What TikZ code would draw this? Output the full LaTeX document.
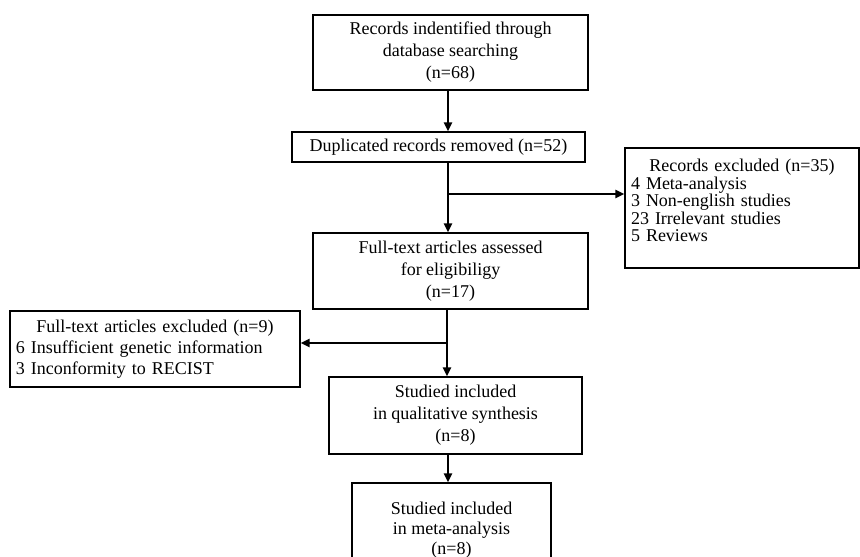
\documentclass[tikz,border=0pt]{standalone}
\usepackage{fontspec}
\setmainfont{Liberation Serif}
\usetikzlibrary{arrows.meta}
\begin{document}
\begin{tikzpicture}[x=1pt,y=-1pt,
    box/.style={draw, line width=1.2pt, inner sep=2pt, align=center,
      font=\fontsize{18}{22}\selectfont},
    arr/.style={line width=2pt, -{Triangle[length=9pt,width=8pt]}}]
   \useasboundingbox (0,0) rectangle (860,557);
   % main column
   \node[box, minimum width=275pt, minimum height=75pt] (ident) at (450.5,52.5)
      {Records indentified through\\ database searching\\ (n=68)};
   \node[box, minimum width=293pt, minimum height=30pt] (dup) at (438.5,147)
      {Duplicated records removed (n=52)};
   \node[box, minimum width=275pt, minimum height=76pt] (assess) at (450.5,271)
      {Full-text articles assessed\\ for eligibiligy\\ (n=17)};
   \node[box, minimum width=253pt, minimum height=77pt] (qual) at (455.5,415.5)
      {Studied included\\ in qualitative synthesis\\ (n=8)};
   \node[box, minimum width=199pt, minimum height=94pt, font=\fontsize{18}{20}\selectfont] (meta) at (451.5,530)
      {Studied included\\ in meta-analysis\\ (n=8)};
   % side boxes
   \node[box, minimum width=234pt, minimum height=120pt, text width=222pt, align=left,
      font=\fontsize{18}{17.5}\selectfont] (excl) at (742,208)
      {\makebox[\linewidth]{Records excluded (n=35)}\\ 4 Meta-analysis\\ 3 Non-english studies\\
       23 Irrelevant studies\\ 5 Reviews\rule[-15pt]{0pt}{0pt}};
   \node[box, minimum width=290pt, minimum height=76pt, text width=278pt, align=left,
      font=\fontsize{18}{21}\selectfont] (fexcl) at (155,349)
      {\makebox[\linewidth]{Full-text articles excluded (n=9)}\\ 6 Insufficient genetic information\\
       3 Inconformity to RECIST};
   % branch points
   \coordinate (b1) at (448,194);
   \coordinate (b2) at (447,343);
   \coordinate (b3) at (448,470);
   \draw[arr] (ident.south -| b1) -- (dup.north -| b1);
   \draw[arr] (dup.south -| b1) -- (assess.north -| b1);
   \draw[arr] (b1) -- (b1 -| excl.west);
   \draw[arr] (assess.south -| b2) -- (qual.north -| b2);
   \draw[arr] (b2) -- (b2 -| fexcl.east);
   \draw[arr] (qual.south -| b3) -- (meta.north -| b3);
\end{tikzpicture}
\end{document}
